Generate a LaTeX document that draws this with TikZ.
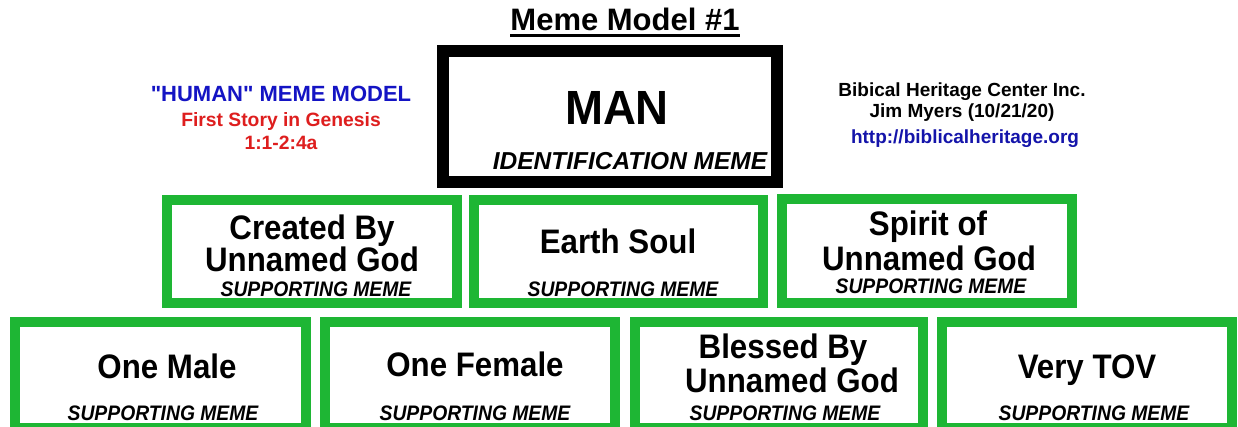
\documentclass[tikz,border=0pt]{standalone}
\usepackage{fontspec}
\usepackage{graphicx}
\setmainfont{Liberation Sans}
\newfontfamily\nolig{Liberation Sans}[Ligatures=TeXOff]
\definecolor{memegreen}{RGB}{30,182,52}
\definecolor{humanblue}{RGB}{20,20,196}
\definecolor{genred}{RGB}{222,30,30}
\definecolor{linkblue}{RGB}{20,20,170}
\newcommand{\bigtxt}[1]{\scalebox{0.92}[1]{\fontsize{34}{34}\selectfont\bfseries #1}}
\newcommand{\suptxt}[1]{\scalebox{0.92}[1]{\fontsize{21}{21}\selectfont\bfseries\itshape #1}}
\tikzset{
  greenbox/.style={draw=memegreen, line width=10pt, fill=white},
  manbox/.style={draw=black, line width=12pt, fill=white},
  txt/.style={anchor=base, inner sep=0pt, outer sep=0pt},
}
\begin{document}
\begin{tikzpicture}[x=1pt,y=-1pt]
\useasboundingbox (0,0) rectangle (1238,427);
\clip (0,0) rectangle (1238,427);
\fill[white] (0,0) rectangle (1238,427);
% title
\node[txt] (title) at (625,31) {\fontsize{31}{31}\selectfont\bfseries Meme Model \#1};
\draw[line width=2.6pt] ([yshift=-4.5pt]title.base west) -- ([yshift=-4.5pt]title.base east);
% identification box
\draw[manbox] (443,51) rectangle (777,182);
\node[txt] (man) at (617,125) {\scalebox{0.95}[1]{\fontsize{48}{48}\selectfont\bfseries MAN}};
\node[txt] (idm) at (630,170) {\fontsize{24.5}{24.5}\selectfont\bfseries\itshape IDENTIFICATION MEME};
% left info
\node[txt, text=humanblue] (h1) at (281,102) {\nolig\fontsize{22}{22}\selectfont\bfseries "HUMAN" MEME MODEL};
\node[txt, text=genred] (h2) at (281,127) {\fontsize{19.3}{19.3}\selectfont\bfseries First Story in Genesis};
\node[txt, text=genred] (h3) at (281,150) {\fontsize{19.3}{19.3}\selectfont\bfseries 1:1-2:4a};
% right info
\node[txt] (r1) at (962,97) {\fontsize{19}{19}\selectfont\bfseries Bibical Heritage Center Inc.};
\node[txt] (r2) at (962,118) {\fontsize{19}{19}\selectfont\bfseries Jim Myers (10/21/20)};
\node[txt, text=linkblue] (r3) at (965,144) {\fontsize{19}{19}\selectfont\bfseries http://biblicalheritage.org};
% row 2
\draw[greenbox] (167,200) rectangle (457,303);
\draw[greenbox] (474,200) rectangle (763,303);
\draw[greenbox] (782,199) rectangle (1072,303);
\node[txt] (a1) at (312,240) {\bigtxt{Created By}};
\node[txt] (a2) at (312,272) {\bigtxt{Unnamed God}};
\node[txt] (a3) at (316,296) {\suptxt{SUPPORTING MEME}};
\node[txt] (b1) at (618,254) {\bigtxt{Earth Soul}};
\node[txt] (b2) at (623,297) {\suptxt{SUPPORTING MEME}};
\node[txt] (c1) at (928,236) {\bigtxt{Spirit of}};
\node[txt] (c2) at (929,271) {\bigtxt{Unnamed God}};
\node[txt] (c3) at (931,294) {\suptxt{SUPPORTING MEME}};
% row 3
\draw[greenbox] (15,322) rectangle (306,428);
\draw[greenbox] (325,322) rectangle (615,428);
\draw[greenbox] (635,322) rectangle (923,428);
\draw[greenbox] (942,322) rectangle (1232,428);
\node[txt] (d1) at (167,378) {\bigtxt{One Male}};
\node[txt] (d2) at (163,420) {\suptxt{SUPPORTING MEME}};
\node[txt] (e1) at (475,376) {\bigtxt{One Female}};
\node[txt] (e2) at (475,420) {\suptxt{SUPPORTING MEME}};
\node[txt] (f1) at (783,358) {\bigtxt{Blessed By}};
\node[txt] (f2) at (792,392) {\bigtxt{Unnamed God}};
\node[txt] (f3) at (785,420) {\suptxt{SUPPORTING MEME}};
\node[txt] (g1) at (1087,378) {\bigtxt{Very TOV}};
\node[txt] (g2) at (1094,420) {\suptxt{SUPPORTING MEME}};
\end{tikzpicture}
\end{document}
